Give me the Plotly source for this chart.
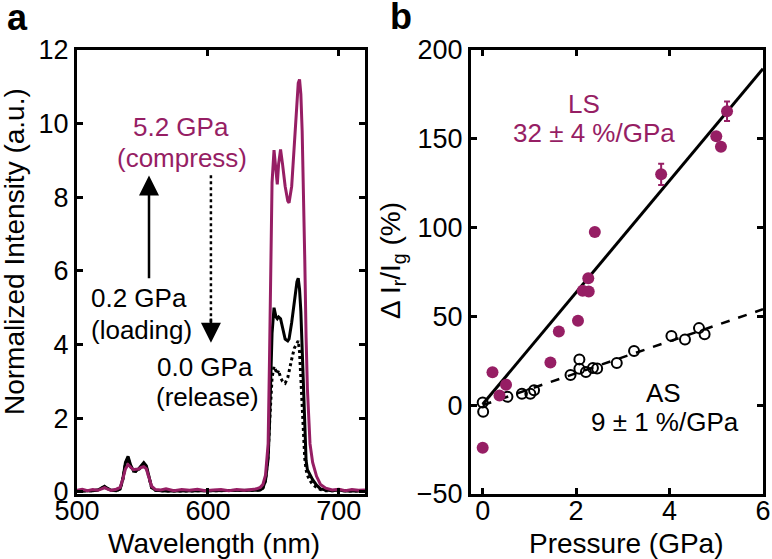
import plotly.graph_objects as go

MAG = "#961E64"
FONT = "Liberation Sans, Arial, Helvetica, sans-serif"

# ---------------- Panel a: spectra ----------------
wavelength = [500, 504, 508, 512, 516, 519, 521, 523, 526, 530, 533, 535, 537, 539, 541, 543, 545, 547,
              549, 551, 553, 555, 557, 560, 564, 568, 574, 580, 586, 592, 598, 604, 610, 616, 622, 628,
              634, 637, 640, 642, 644, 646, 647, 648, 649, 650.5, 652, 653, 654, 655.5, 657, 659, 661,
              662, 664, 666, 668, 669, 670, 671, 672, 673, 674, 675, 676, 678, 680, 683, 686, 690, 695,
              700, 705, 710, 715, 720]
int_compress = [0.04, 0.07, 0.03, 0.06, 0.04, 0.09, 0.11, 0.08, 0.04, 0.07, 0.12, 0.35, 0.62, 0.74, 0.66,
                0.60, 0.61, 0.62, 0.66, 0.68, 0.62, 0.40, 0.15, 0.06, 0.05, 0.08, 0.03, 0.06, 0.04, 0.07,
                0.03, 0.05, 0.06, 0.03, 0.06, 0.04, 0.07, 0.08, 0.12, 0.20, 0.45, 1.30, 3.50, 6.20, 8.40,
                9.28, 8.60, 8.35, 8.90, 9.30, 8.90, 8.30, 7.90, 7.85, 8.30, 9.40, 10.60, 11.10, 11.20,
                10.80, 9.80, 8.30, 6.30, 4.20, 2.80, 1.30, 0.80, 0.42, 0.20, 0.10, 0.05, 0.07, 0.03, 0.06,
                0.04, 0.05]
int_loading = [0.02, 0.02, 0.02, 0.03, 0.05, 0.12, 0.15, 0.10, 0.04, 0.03, 0.08, 0.35, 0.80, 0.96, 0.72,
               0.58, 0.56, 0.62, 0.72, 0.79, 0.70, 0.40, 0.12, 0.04, 0.02, 0.02, 0.02, 0.02, 0.02, 0.02,
               0.03, 0.02, 0.02, 0.02, 0.02, 0.02, 0.03, 0.04, 0.05, 0.10, 0.30, 0.90, 1.80, 3.00, 4.30,
               5.00, 4.75, 4.70, 4.75, 4.70, 4.45, 4.15, 4.10, 4.15, 4.60, 5.20, 5.70, 5.80, 5.50, 4.90,
               3.80, 2.50, 1.50, 0.85, 0.60, 0.45, 0.33, 0.18, 0.08, 0.05, 0.03, 0.05, 0.02, 0.02, 0.02,
               0.02]
int_release = [0.02, 0.02, 0.02, 0.03, 0.05, 0.10, 0.13, 0.09, 0.04, 0.03, 0.08, 0.33, 0.76, 0.90, 0.68,
               0.56, 0.55, 0.60, 0.68, 0.74, 0.66, 0.38, 0.11, 0.04, 0.02, 0.02, 0.02, 0.02, 0.02, 0.02,
               0.03, 0.02, 0.02, 0.02, 0.02, 0.02, 0.03, 0.04, 0.05, 0.10, 0.30, 1.00, 1.80, 2.70, 3.10,
               3.40, 3.30, 3.20, 3.30, 3.10, 3.00, 2.95, 3.10, 3.30, 3.60, 3.90, 4.05, 4.10, 3.80, 3.10,
               2.30, 1.50, 0.90, 0.60, 0.45, 0.30, 0.20, 0.12, 0.06, 0.03, 0.03, 0.04, 0.02, 0.02, 0.02,
               0.02]

# ---------------- Panel b: intensity ratio vs pressure ----------------
ls_pressure = [0.00, 0.21, 0.36, 0.50, 1.45, 1.63, 2.04, 2.14, 2.27, 2.26, 2.40, 3.82, 5.00, 5.10, 5.23]
ls_ratio = [-24, 18.5, 5.5, 11.5, 24, 41.5, 47.5, 64.5, 64, 71.5, 97.5, 130, 151.5, 145.5, 165.5]
ls_err = [1, 1, 1, 1, 1, 1, 1.5, 1.5, 1.5, 1, 1, 6, 1, 1, 5.5]

as_pressure = [0.00, 0.01, 0.53, 0.84, 1.02, 1.10, 1.88, 2.07, 2.07, 2.21, 2.36, 2.45, 2.87, 3.24,
               4.04, 4.33, 4.63, 4.75]
as_ratio = [1.5, -3.7, 4.7, 6.5, 6.5, 8.4, 17, 25.8, 20.5, 18.7, 21, 20.6, 23.8, 30.5, 39, 37, 43.4, 39.9]

ls_fit_p = [0, 6]
ls_fit_r = [0.5, 189.5]
as_fit_p = [0, 6]
as_fit_r = [0.0, 54]

W, H = 772, 559
def xp(X):
    return X / W
def yp(Y):
    return 1 - Y / H

fig = go.Figure()

# spectra
fig.add_trace(go.Scatter(x=wavelength, y=int_loading, mode="lines",
                         line=dict(color="black", width=3), xaxis="x", yaxis="y"))
fig.add_trace(go.Scatter(x=wavelength, y=int_release, mode="lines",
                         line=dict(color="black", width=3, dash="dot"), xaxis="x", yaxis="y"))
fig.add_trace(go.Scatter(x=wavelength, y=int_compress, mode="lines",
                         line=dict(color=MAG, width=3), xaxis="x", yaxis="y"))

# panel b
fig.add_trace(go.Scatter(x=ls_fit_p, y=ls_fit_r, mode="lines",
                         line=dict(color="black", width=3), xaxis="x2", yaxis="y2"))
fig.add_trace(go.Scatter(x=as_fit_p, y=as_fit_r, mode="lines",
                         line=dict(color="black", width=2.5, dash="dash"), xaxis="x2", yaxis="y2"))
fig.add_trace(go.Scatter(x=as_pressure, y=as_ratio, mode="markers",
                         marker=dict(symbol="circle-open", size=10, color="black", line=dict(width=2)),
                         xaxis="x2", yaxis="y2"))
fig.add_trace(go.Scatter(x=ls_pressure, y=ls_ratio, mode="markers",
                         marker=dict(symbol="circle", size=12, color=MAG),
                         error_y=dict(type="data", array=ls_err, color=MAG, thickness=2, width=3),
                         xaxis="x2", yaxis="y2"))

axis_common = dict(showline=True, linecolor="black", linewidth=3, mirror="allticks",
                   ticks="inside", ticklen=6, tickwidth=2.5, tickcolor="black",
                   showgrid=False, zeroline=False, automargin=False,
                   tickfont=dict(family=FONT, size=27, color="black"))

y_dom = [yp(494), yp(50)]
fig.update_layout(
    width=W, height=H,
    margin=dict(l=0, r=0, t=0, b=0),
    paper_bgcolor="white", plot_bgcolor="white",
    showlegend=False,
    font=dict(family=FONT, color="black"),
    xaxis=dict(domain=[xp(77), xp(365)], range=[500, 720], tickvals=[500, 600, 700],
               anchor="y", ticklabelstandoff=-9, **axis_common),
    yaxis=dict(domain=y_dom, range=[-0.06, 12], tickvals=[0, 2, 4, 6, 8, 10, 12],
               anchor="x", **axis_common),
    xaxis2=dict(domain=[xp(471), xp(763)], range=[-0.25, 6], tickvals=[0, 2, 4, 6],
                anchor="y2", ticklabelstandoff=-9, **axis_common),
    yaxis2=dict(domain=y_dom, range=[-50, 200], tickvals=[-50, 0, 50, 100, 150, 200],
                anchor="x2", **axis_common),
)

ann = []
def txt(x, y, s, xref="x", yref="y", size=26, color="black", angle=0, bold=False):
    ann.append(dict(x=x, y=y, xref=xref, yref=yref, text=("<b>%s</b>" % s) if bold else s,
                    showarrow=False, textangle=angle,
                    font=dict(family=FONT, size=size, color=color),
                    xanchor="center", yanchor="middle"))

# panel a annotations
txt(579.5, 9.92, "5.2 GPa", color=MAG)
txt(580, 9.08, "(compress)", color=MAG)
txt(547, 5.27, "0.2 GPa")
txt(549.6, 4.4, "(loading)")
txt(597.7, 3.4, "0.0 GPa")
txt(600, 2.58, "(release)")

# panel b annotations
txt(2.16, 169.7, "LS", xref="x2", yref="y2", color=MAG)
txt(2.38, 153, "32 ± 4 %/GPa", xref="x2", yref="y2", color=MAG)
txt(3.87, 6.7, "AS", xref="x2", yref="y2")
txt(3.91, -9.6, "9 ± 1 %/GPa", xref="x2", yref="y2")

# axis titles
txt(xp(214), yp(543), "Wavelength (nm)", xref="paper", yref="paper", size=28)
txt(xp(626), yp(543), "Pressure (GPa)", xref="paper", yref="paper", size=28)
txt(xp(14), yp(252), "Normalized Intensity (a.u.)", xref="paper", yref="paper", size=28, angle=-90)
txt(xp(392), yp(261), "Δ I<sub>r</sub>/I<sub>g</sub> (%)", xref="paper", yref="paper", size=28, angle=-90)

# panel letters
txt(xp(17), yp(18), "a", xref="paper", yref="paper", size=36, bold=True)
txt(xp(401), yp(17), "b", xref="paper", yref="paper", size=36, bold=True)

# solid arrow (loading -> compress)
ann.append(dict(x=555, y=8.59, xref="x", yref="y", ax=555, ay=5.76, axref="x", ayref="y",
                showarrow=True, arrowhead=2, arrowsize=1.6, arrowwidth=2.5, arrowcolor="black",
                text="", standoff=0))
# dotted arrow (compress -> release): dotted shaft + arrowhead
fig.add_shape(type="line", xref="x", yref="y", x0=602.3, x1=602.3, y0=8.6, y1=4.5,
              line=dict(color="black", width=2.5, dash="dot"))
ann.append(dict(x=602.3, y=4.05, xref="x", yref="y", ax=602.3, ay=4.75, axref="x", ayref="y",
                showarrow=True, arrowhead=2, arrowsize=1.6, arrowwidth=2.5, arrowcolor="black",
                text="", standoff=0))
fig.update_layout(annotations=ann)

fig.write_html("out.html", config={"displayModeBar": False},
               post_script="document.body.style.margin='0';document.body.style.padding='0';")
